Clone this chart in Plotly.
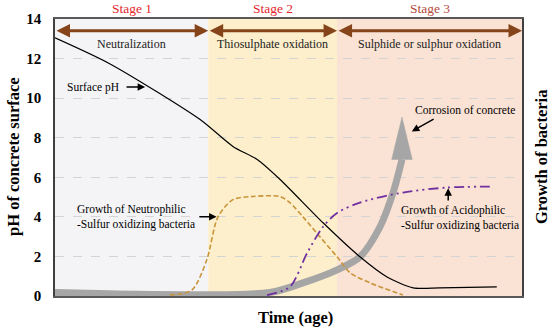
import plotly.graph_objects as go

# ---------------- data (x: relative time 0-100, y: pH) ----------------
ph_x = [0, 11.8, 31.0, 38.1, 43.3, 48.2, 57.4, 65.3, 71.1, 76.7, 82.4, 94.6]
ph_y = [13.05, 11.73, 8.93, 7.56, 6.9, 5.89, 3.7, 1.98, 0.96, 0.41, 0.41, 0.46]

neutro_x = [24.6, 29.3, 32.5, 34.9, 38.1, 42.4, 48.2, 50.3, 53.1, 56.7, 60.4, 63.2, 67.5, 74.5]
neutro_y = [0.05, 0.3, 1.83, 4.0, 4.87, 5.03, 5.03, 4.72, 4.0, 3.0, 1.98, 1.17, 0.66, 0.05]

acido_x = [45.4, 50.3, 54.0, 57.4, 60.4, 65.3, 74.5, 83.9, 93.1]
acido_y = [0.05, 0.46, 2.18, 3.5, 4.2, 4.72, 5.23, 5.48, 5.53]

corrosion_x = [0, 46.0, 53.1, 60.4, 65.3, 69.6, 72.4, 74.3]
corrosion_y = [0.18, 0.18, 0.66, 1.32, 1.98, 3.5, 5.23, 6.9]
corrosion_head_x = [72.1, 74.3, 76.5, 72.1]
corrosion_head_y = [6.9, 9.04, 6.9, 6.9]

stage_bounds = [0, 32.8, 60.4, 100]
stage_names = ["Stage 1", "Stage 2", "Stage 3"]
stage_processes = ["Neutralization", "Thiosulphate oxidation", "Sulphide or sulphur oxidation"]
stage_fill = ["#f4f4f6", "#fdefcb", "#fae2d4"]
stage_label_colors = ["#e3262d", "#e3262d", "#b24a3a"]

y_ticks = [0, 2, 4, 6, 8, 10, 12, 14]

FONT = "Liberation Serif, Times New Roman, serif"

W, H = 550, 329
L, R, T, B = 55, 28, 19, 33


def px_x(p):
    return (p - L) / (W - L - R)


def px_y(p):
    return 1 - (p - T) / (H - T - B)


fig = go.Figure()

# thick grey corrosion arrow
fig.add_trace(go.Scatter(x=corrosion_x, y=corrosion_y, mode="lines",
                         line=dict(color="#a6a6a6", width=7, shape="spline", smoothing=0.8),
                         hoverinfo="skip", showlegend=False))
fig.add_trace(go.Scatter(x=corrosion_head_x, y=corrosion_head_y, mode="lines", fill="toself",
                         fillcolor="#a6a6a6", line=dict(color="#a6a6a6", width=0.5),
                         hoverinfo="skip", showlegend=False))

# curves
fig.add_trace(go.Scatter(x=neutro_x, y=neutro_y, mode="lines",
                         line=dict(color="#c8943a", width=1.6, dash="5px,2.5px", shape="spline", smoothing=0.8),
                         showlegend=False))
fig.add_trace(go.Scatter(x=acido_x, y=acido_y, mode="lines",
                         line=dict(color="#7030a0", width=1.8, dash="10px,4px,2px,4px,2px,4px",
                                   shape="spline", smoothing=0.8),
                         showlegend=False))
fig.add_trace(go.Scatter(x=ph_x, y=ph_y, mode="lines",
                         line=dict(color="black", width=1.2, shape="spline", smoothing=0.7),
                         showlegend=False))

# stage backgrounds, arrows and labels
for i in range(3):
    x0, x1 = stage_bounds[i], stage_bounds[i + 1]
    fig.add_shape(type="rect", xref="x", yref="y", x0=x0, x1=x1, y0=0, y1=14,
                  fillcolor=stage_fill[i], line=dict(width=0), layer="below")
    fig.add_annotation(x=x1, y=13.4, ax=x0, ay=13.4, xref="x", yref="y", axref="x", ayref="y",
                       text="", showarrow=True, arrowhead=2, arrowside="end+start",
                       arrowsize=0.9, arrowwidth=3, arrowcolor="#85441a")
    cx = (x0 + x1) / 2
    fig.add_annotation(x=cx, y=12.75, xref="x", yref="y", text=stage_processes[i], showarrow=False,
                       font=dict(family=FONT, size=12, color="#222"))
    fig.add_annotation(x=cx, y=px_y(8), xref="x", yref="paper", text=stage_names[i], showarrow=False,
                       yanchor="middle", font=dict(family=FONT, size=13.5, color=stage_label_colors[i]))

# text annotations
fig.add_annotation(x=2.1, y=10.56, xref="x", yref="y", text="Surface pH", showarrow=False,
                   xanchor="left", font=dict(family=FONT, size=11.5, color="black"))
fig.add_annotation(x=19.3, y=10.56, ax=15.0, ay=10.56, xref="x", yref="y", axref="x", ayref="y",
                   text="", showarrow=True, arrowhead=2, arrowsize=1, arrowwidth=1.5, arrowcolor="black")

fig.add_annotation(x=4.3, y=4.0, xref="x", yref="y", xanchor="left", align="left",
                   text="Growth of Neutrophilic<br>-Sulfur oxidizing bacteria", showarrow=False,
                   font=dict(family=FONT, size=11.5, color="black"))
fig.add_annotation(x=34.6, y=4.0, ax=30.6, ay=4.0, xref="x", yref="y", axref="x", ayref="y",
                   text="", showarrow=True, arrowhead=2, arrowsize=1, arrowwidth=1.5, arrowcolor="black")

fig.add_annotation(x=73.6, y=3.95, xref="x", yref="y", xanchor="left", align="left",
                   text="Growth of Acidophilic<br>-Sulfur oxidizing bacteria", showarrow=False,
                   font=dict(family=FONT, size=11.5, color="black"))
fig.add_annotation(x=84.2, y=5.45, ax=84.2, ay=4.75, xref="x", yref="y", axref="x", ayref="y",
                   text="", showarrow=True, arrowhead=2, arrowsize=1, arrowwidth=1.5, arrowcolor="black")

fig.add_annotation(x=87.8, y=9.4, xref="x", yref="y", text="Corrosion of concrete", showarrow=False,
                   font=dict(family=FONT, size=11.5, color="black"))
fig.add_annotation(x=76.4, y=8.32, ax=81.4, ay=8.98, xref="x", yref="y", axref="x", ayref="y",
                   text="", showarrow=True, arrowhead=2, arrowsize=1, arrowwidth=1.5, arrowcolor="black")

# axis titles
fig.add_annotation(x=px_x(13), y=px_y(157), xref="paper", yref="paper", text="<b>pH of concrete surface</b>",
                   showarrow=False, textangle=-90, xanchor="center", yanchor="middle",
                   font=dict(family=FONT, size=16.5, color="black"))
fig.add_annotation(x=px_x(541), y=px_y(157), xref="paper", yref="paper", text="<b>Growth of bacteria</b>",
                   showarrow=False, textangle=-90, xanchor="center", yanchor="middle",
                   font=dict(family=FONT, size=16.5, color="black"))
fig.add_annotation(x=px_x(295), y=px_y(317), xref="paper", yref="paper", text="<b>Time (age)</b>",
                   showarrow=False, xanchor="center", yanchor="middle",
                   font=dict(family=FONT, size=16.5, color="black"))

fig.update_layout(
    width=W, height=H,
    margin=dict(l=L, r=R, t=T, b=B),
    paper_bgcolor="white", plot_bgcolor="white",
    xaxis=dict(range=[0, 100], showgrid=False, zeroline=False, showticklabels=False, ticks="",
               showline=True, linecolor="#595959", linewidth=1.5, mirror=True, fixedrange=True),
    yaxis=dict(range=[0, 14], tickvals=y_ticks, showgrid=True, gridcolor="#d4d4d4", griddash="dash",
               gridwidth=1, zeroline=False, ticks="outside", ticklen=9, tickcolor="rgba(0,0,0,0)",
               tickfont=dict(family=FONT, size=15, color="black", weight="bold"),
               showline=True, linecolor="#404040", linewidth=1.5, mirror=True, fixedrange=True),
)

fig.write_html("out.html", config={"displayModeBar": False},
               post_script="document.body.style.margin='0';document.body.style.overflow='hidden';")
